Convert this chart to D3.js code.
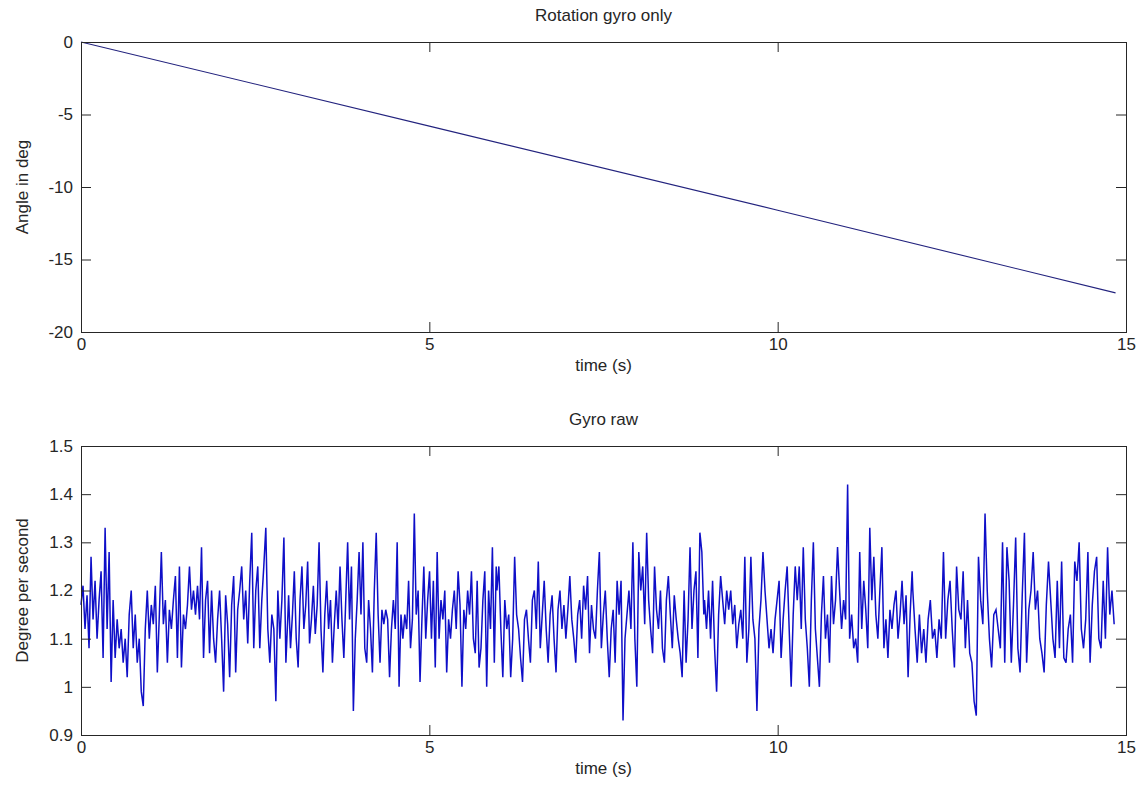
<!DOCTYPE html>
<html>
<head>
<meta charset="utf-8">
<script src="https://cdn.jsdelivr.net/npm/d3@7"></script>
<style>
  html, body { margin: 0; padding: 0; background: #ffffff; }
  svg { display: block; }
  text { font-family: "Liberation Sans", Arial, sans-serif; fill: #262626; }
</style>
</head>
<body>
<svg id="chart" width="1142" height="792"></svg>
<script>
// ---- Data ----
const xTicks = [0, 5, 10, 15];
const angleTicks = [0, -5, -10, -15, -20];
const rateTicks = [0.9, 1.0, 1.1, 1.2, 1.3, 1.4, 1.5];
const rateTickLabels = ["0.9", "1", "1.1", "1.2", "1.3", "1.4", "1.5"];

// Rotation (integrated) angle, top panel
const angleTime = [0, 5, 10, 14.85];
const angleDeg = [0, -5.8, -11.6, -17.3];

// Gyro raw samples (deg/s) in five stretches;
// each stretch is evenly sampled between its start and end time (s)
const gyroSegStart = [0, 2.98, 5.97, 8.95, 11.94];
const gyroSegEnd = [2.97, 5.96, 8.94, 11.93, 14.83];
const gyroSeg1 = [1.17,1.21,1.12,1.19,1.08,1.27,1.14,1.22,1.10,1.18,1.24,1.06,1.33,1.12,1.28,1.01,1.18,1.06,1.14,1.08,1.12,1.05,1.10,1.02,1.15,1.20,1.08,1.15,1.05,1.10,0.99,0.96,1.12,1.20,1.10,1.17,1.13,1.21,1.03,1.15,1.28,1.13,1.18,1.05,1.16,1.12,1.18,1.23,1.06,1.25,1.04,1.15,1.12,1.17,1.25,1.16,1.20,1.15,1.21,1.14,1.29,1.06,1.18,1.22,1.07,1.20,1.10,1.05,1.14,1.20,1.10,0.99,1.19,1.13,1.02,1.17,1.23,1.03,1.16,1.20,1.25,1.14,1.20,1.09,1.22,1.32,1.08,1.20,1.25,1.08,1.18,1.25,1.33,1.12,1.05,1.15,1.12,0.97,1.20,1.10,1.18,1.31,1.05,1.15];
const gyroSeg2 = [1.19,1.08,1.15,1.24,1.10,1.04,1.18,1.25,1.12,1.17,1.26,1.09,1.14,1.21,1.11,1.17,1.30,1.12,1.03,1.15,1.22,1.12,1.18,1.05,1.13,1.20,1.12,1.25,1.14,1.06,1.18,1.30,1.14,1.25,0.95,1.10,1.18,1.28,1.15,1.30,1.08,1.05,1.18,1.12,1.03,1.20,1.32,1.15,1.05,1.16,1.13,1.16,1.14,1.02,1.12,1.18,1.12,1.30,1.00,1.15,1.10,1.15,1.12,1.22,1.08,1.14,1.36,1.15,1.20,1.01,1.14,1.25,1.10,1.18,1.24,1.10,1.22,1.04,1.28,1.10,1.18,1.14,1.20,1.03,1.14,1.10,1.16,1.20,1.12,1.24,1.17,1.00,1.16,1.12,1.20,1.15,1.24,1.10,1.07,1.22,1.04,1.08,1.18,1.24,1.00,1.20,1.12,1.29,1.05,1.25];
const gyroSeg3 = [1.20,1.25,1.12,1.02,1.18,1.12,1.15,1.02,1.10,1.27,1.15,1.12,1.06,1.01,1.14,1.16,1.10,1.05,1.18,1.20,1.12,1.26,1.08,1.15,1.22,1.12,1.05,1.15,1.19,1.10,1.03,1.16,1.20,1.12,1.17,1.10,1.16,1.23,1.14,1.10,1.05,1.15,1.18,1.10,1.21,1.16,1.23,1.07,1.17,1.12,1.10,1.20,1.28,1.08,1.15,1.20,1.10,1.02,1.12,1.16,1.05,1.22,1.15,1.22,0.93,1.10,1.15,1.20,1.12,1.30,1.10,1.00,1.28,1.20,1.25,1.13,1.32,1.18,1.12,1.07,1.25,1.16,1.12,1.20,1.08,1.05,1.18,1.23,1.15,1.08,1.19,1.14,1.10,1.07,1.02,1.20,1.05,1.14,1.29,1.12,1.20,1.24,1.06,1.32,1.28,1.15];
const gyroSeg4 = [1.18,1.12,1.20,1.10,1.22,1.08,0.99,1.15,1.23,1.18,1.13,1.20,1.16,1.20,1.13,1.17,1.08,1.13,1.16,1.10,1.27,1.05,1.12,1.27,1.14,1.10,0.95,1.12,1.18,1.28,1.20,1.14,1.08,1.12,1.07,1.14,1.18,1.22,1.06,1.14,1.20,1.25,1.12,1.00,1.15,1.25,1.18,1.25,1.12,1.29,1.14,1.08,1.00,1.18,1.30,1.12,1.06,1.00,1.15,1.23,1.10,1.15,1.05,1.23,1.13,1.18,1.29,1.20,1.12,1.18,1.14,1.42,1.10,1.15,1.08,1.10,1.05,1.28,1.12,1.22,1.16,1.08,1.33,1.18,1.27,1.15,1.10,1.20,1.29,1.08,1.14,1.06,1.16,1.12,1.17,1.20,1.10,1.15,1.22,1.13,1.19,1.02,1.15,1.24];
const gyroSeg5 = [1.20,1.12,1.05,1.15,1.07,1.12,1.05,1.14,1.18,1.10,1.12,1.06,1.14,1.10,1.28,1.10,1.18,1.22,1.12,1.04,1.25,1.16,1.14,1.24,1.08,1.18,1.07,1.05,0.97,0.94,1.27,1.18,1.13,1.36,1.20,1.10,1.04,1.15,1.16,1.12,1.08,1.30,1.05,1.29,1.22,1.05,1.17,1.31,1.08,1.03,1.19,1.32,1.05,1.16,1.20,1.28,1.16,1.20,1.10,1.07,1.03,1.17,1.26,1.18,1.10,1.06,1.22,1.08,1.26,1.06,1.05,1.12,1.15,1.05,1.26,1.22,1.30,1.12,1.08,1.14,1.28,1.05,1.17,1.24,1.27,1.10,1.08,1.22,1.10,1.29,1.15,1.20,1.13];

const gyroSegs = [gyroSeg1, gyroSeg2, gyroSeg3, gyroSeg4, gyroSeg5];
const gyroData = [];
gyroSegs.forEach((seg, s) => {
  const t = d3.scaleLinear().domain([0, seg.length - 1]).range([gyroSegStart[s], gyroSegEnd[s]]);
  seg.forEach((v, i) => gyroData.push({ t: t(i), v }));
});
const angleData = angleTime.map((t, i) => ({ t, v: angleDeg[i] }));

// ---- Layout ----
const svg = d3.select("#chart");
const L = 81, R = 1126;
const panels = [
  { top: 42, bottom: 332, domain: [-20, 0], ticks: angleTicks, labels: angleTicks.map(String),
    data: angleData, color: "#23237e", width: 1.1,
    title: "Rotation gyro only", ylabel: "Angle in deg" },
  { top: 446, bottom: 735, domain: [0.9, 1.5], ticks: rateTicks, labels: rateTickLabels,
    data: gyroData, color: "#0f0fc8", width: 1.5,
    title: "Gyro raw", ylabel: "Degree per second" }
];
const FS = 17;

panels.forEach(p => {
  const x = d3.scaleLinear().domain([0, 15]).range([L, R]);
  const y = d3.scaleLinear().domain(p.domain).range([p.bottom, p.top]);
  const g = svg.append("g");

  // data line
  g.append("path")
    .datum(p.data)
    .attr("fill", "none")
    .attr("stroke", p.color)
    .attr("stroke-width", p.width)
    .attr("stroke-linejoin", "miter")
    .attr("d", d3.line().x(d => x(d.t)).y(d => y(d.v)));

  // axes with inward ticks
  const bottomAx = d3.axisBottom(x).tickValues(xTicks).tickSizeInner(-10).tickSizeOuter(0).tickPadding(6).tickFormat(d3.format("d"));
  const topAx = d3.axisTop(x).tickValues(xTicks).tickSizeInner(-10).tickSizeOuter(0).tickFormat("");
  const leftAx = d3.axisLeft(y).tickValues(p.ticks).tickSizeInner(-10).tickSizeOuter(0).tickPadding(8)
    .tickFormat((d, i) => p.labels[i]);
  const rightAx = d3.axisRight(y).tickValues(p.ticks).tickSizeInner(-10).tickSizeOuter(0).tickFormat("");

  [[bottomAx, `translate(0,${p.bottom})`], [topAx, `translate(0,${p.top})`],
   [leftAx, `translate(${L},0)`], [rightAx, `translate(${R},0)`]].forEach(([ax, tr]) => {
    const a = g.append("g").attr("transform", tr).call(ax);
    a.select(".domain").remove();
    a.selectAll("line").attr("stroke", "#262626");
    a.selectAll("text").attr("font-size", FS).attr("font-family", "'Liberation Sans', Arial, sans-serif").attr("fill", "#262626");
  });

  // frame
  g.append("rect")
    .attr("x", L + 0.5).attr("y", p.top + 0.5)
    .attr("width", R - L).attr("height", p.bottom - p.top)
    .attr("fill", "none").attr("stroke", "#262626").attr("stroke-width", 1);

  // title
  g.append("text").attr("x", (L + R) / 2).attr("y", p.top - 21)
    .attr("text-anchor", "middle").attr("font-size", FS).text(p.title);
  // x label
  g.append("text").attr("x", (L + R) / 2).attr("y", p.bottom + 39)
    .attr("text-anchor", "middle").attr("font-size", FS).text("time (s)");
  // y label
  g.append("text")
    .attr("transform", `translate(28,${(p.top + p.bottom) / 2}) rotate(-90)`)
    .attr("text-anchor", "middle").attr("font-size", FS).text(p.ylabel);
});
</script>
</body>
</html>
